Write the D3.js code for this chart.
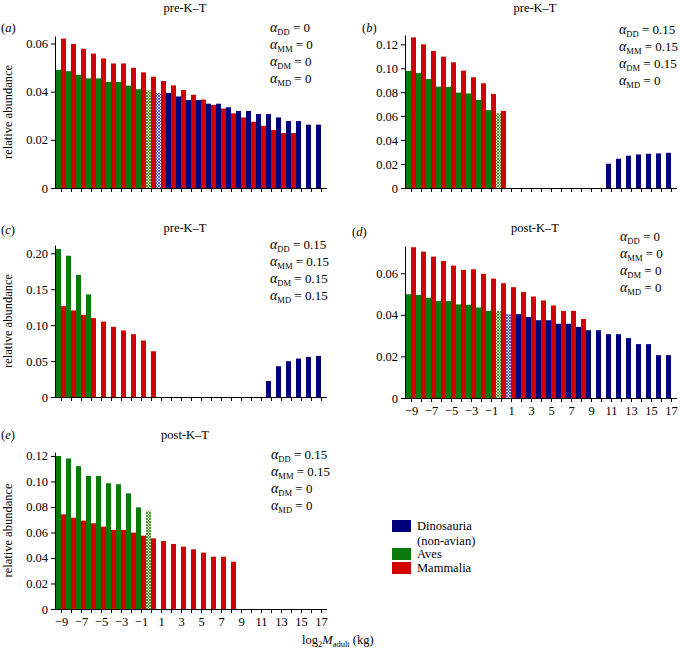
<!DOCTYPE html>
<html>
<head>
<meta charset="utf-8">
<script src="https://cdn.jsdelivr.net/npm/d3@7"></script>
<style>
  body { margin: 0; background: #fff; }
  text { font-family: "Liberation Serif", "Times New Roman", serif; fill: #000; }
</style>
</head>
<body>
<svg id="chart" width="680" height="651"></svg>
<script>
// ---------- data ----------
const categories = [-9,-8,-7,-6,-5,-4,-3,-2,-1,0,1,2,3,4,5,6,7,8,9,10,11,12,13,14,15,16,17];
const xTickLabels = [-9,-7,-5,-3,-1,1,3,5,7,9,11,13,15,17];

// (a) pre-K–T, all alphas 0
const avesA = [0.049,0.0485,0.047,0.0455,0.0455,0.044,0.044,0.0425,0.041,0.0405];
const mammA = [0.062,0.0598,0.0578,0.0558,0.0538,0.0517,0.0517,0.0499,0.048,0.0462,0.0444,0.0426,0.0407,0.0387,0.0367,0.0345,0.033,0.031,0.0293,0.0275,0.0258,0.0241,0.0228,0.0228];
const dinoA = [0.0395,0.0395,0.038,0.0365,0.0365,0.035,0.035,0.0335,0.032,0.032,0.0307,0.0307,0.0293,0.0278,0.0278,0.0263,0.0263];
// (b)
const avesB = [0.0978,0.096,0.091,0.0847,0.0845,0.0797,0.079,0.0736,0.065,0.0625];
const mammB = [0.1258,0.120,0.1144,0.1097,0.105,0.098,0.0925,0.0875,0.0786,0.0644];
const dinoB = [0.0203,0.0244,0.027,0.028,0.0286,0.0289,0.0294];
// (c)
const avesC = [0.206,0.1967,0.170,0.1428];
const mammC = [0.1265,0.1205,0.1144,0.1098,0.105,0.0977,0.0926,0.0874,0.0786,0.0637];
const dinoC = [0.0223,0.0428,0.0498,0.0535,0.0558,0.0572];
// (d) post-K–T
const avesD = [0.0499,0.0496,0.0482,0.0466,0.0466,0.045,0.0448,0.0435,0.0419,0.0419];
const mammD = [0.0725,0.0704,0.068,0.0659,0.0637,0.0616,0.0619,0.0597,0.0574,0.0552,0.0533,0.051,0.0488,0.0469,0.0445,0.0419,0.0419,0.038];
const dinoD = [0.0403,0.0403,0.0389,0.0374,0.0374,0.0357,0.0357,0.0342,0.0326,0.0326,0.0307,0.0307,0.0288,0.0259,0.0259,0.0206,0.0206];
// (e)
const avesE = [0.12,0.118,0.112,0.1043,0.1043,0.0986,0.0978,0.0907,0.0797,0.0771];
const mammE = [0.0742,0.0716,0.0693,0.0672,0.0646,0.062,0.062,0.0599,0.0575,0.0554,0.0533,0.051,0.0489,0.0468,0.0442,0.041,0.041,0.0371];
const dinoE = [];

// first category of each series
const avesStart = -9, mammStart = -9;
const dinoStartA = 1, dinoStartB = 11, dinoStartC = 12, dinoStartD = 1;
// categories drawn hatched (transitional bins)
const avesHatchCat = 0, dinoHatchCat = 1;

const yTicksA = [0,0.02,0.04,0.06];
const yTicksB = [0,0.02,0.04,0.06,0.08,0.10,0.12];
const yTicksC = [0,0.05,0.10,0.15,0.20];
const yTicksD = [0,0.02,0.04,0.06];
const yTicksE = [0,0.02,0.04,0.06,0.08,0.10,0.12];

const alphasA = ["0","0","0","0"];
const alphasB = ["0.15","0.15","0.15","0"];
const alphasC = ["0.15","0.15","0.15","0.15"];
const alphasD = ["0","0","0","0"];
const alphasE = ["0.15","0.15","0","0"];
const alphaNames = ["DD","MM","DM","MD"];

const legendItems = [
  {name: "Dinosauria", name2: "(non-avian)", key: "dino"},
  {name: "Aves", key: "aves"},
  {name: "Mammalia", key: "mamm"}
];

// ---------- style ----------
const COL = {dino: "#00007d", aves: "#0a7a0a", mamm: "#d20000"};

const svg = d3.select("#chart");
const defs = svg.append("defs");
function hatch(id, col, bg) {
  const p = defs.append("pattern").attr("id", id).attr("patternUnits", "userSpaceOnUse")
    .attr("width", 3).attr("height", 3);
  p.append("rect").attr("width", 3).attr("height", 3).attr("fill", bg);
  p.append("path").attr("d", "M0,0L3,3M3,0L0,3").attr("stroke", col).attr("stroke-width", 0.9);
}
hatch("hatchAves", "#3c8a2c", "#e4edc8");
hatch("hatchDino", "#4a4ab0", "#e0dcf2");

function fmtY(v) { return v === 0 ? "0" : d3.format(".2f")(v); }

function toSeries(vals, start) {
  return vals.map((v, i) => ({c: start + i, v}));
}

function panel(cfg) {
  const g = svg.append("g");
  const x = d3.scaleLinear().domain([categories[0] - 0.5, categories[categories.length-1] + 0.5])
    .range([cfg.x0 + 1, cfg.x0 + 271]);
  const y = d3.scaleLinear().domain([0, cfg.yMax]).range([cfg.yZero, cfg.yTop]);

  // aves (left slot)
  g.selectAll(".aves").data(toSeries(cfg.aves, avesStart)).join("rect")
    .attr("x", d => x(d.c - 0.5)).attr("width", d => x(d.c) - x(d.c - 0.5))
    .attr("y", d => y(d.v)).attr("height", d => y(0) - y(d.v))
    .attr("fill", d => d.c === avesHatchCat ? "url(#hatchAves)" : COL.aves);
  // dino (left slot)
  g.selectAll(".dino").data(toSeries(cfg.dino, cfg.dinoStart)).join("rect")
    .attr("x", d => x(d.c - 0.5)).attr("width", d => x(d.c) - x(d.c - 0.5))
    .attr("y", d => y(d.v)).attr("height", d => y(0) - y(d.v))
    .attr("fill", d => d.c === dinoHatchCat ? "url(#hatchDino)" : COL.dino);
  // mammalia (right slot)
  g.selectAll(".mamm").data(toSeries(cfg.mamm, mammStart)).join("rect")
    .attr("x", d => x(d.c)).attr("width", d => x(d.c + 0.5) - x(d.c))
    .attr("y", d => y(d.v)).attr("height", d => y(0) - y(d.v))
    .attr("fill", COL.mamm);

  // y axis
  const ya = g.append("g").attr("transform", `translate(${cfg.x0},0)`)
    .call(d3.axisLeft(y).tickValues(cfg.yTicks).tickFormat(fmtY).tickSize(4).tickSizeOuter(0));
  ya.selectAll("text").attr("font-size", 12.5).attr("x", -7);
  // x axis
  const xa = g.append("g").attr("transform", `translate(0,${cfg.yZero})`)
    .call(d3.axisBottom(x).tickValues(categories).tickSize(4).tickSizeOuter(0)
      .tickFormat(d => cfg.showX && xTickLabels.includes(d) ? (d < 0 ? "\u2212" + (-d) : String(d)) : ""));
  xa.select(".domain").attr("d", `M${cfg.x0},0.5H${cfg.x0 + 272}`);
  xa.selectAll("text").attr("font-size", 12.5).attr("y", 8);
  g.selectAll(".domain").attr("stroke", "#000");
  g.selectAll(".tick line").attr("stroke", "#000");

  // title & panel letter
  g.append("text").attr("x", cfg.x0 + 130).attr("y", cfg.titleY).attr("text-anchor", "middle")
    .attr("font-size", 12.5).text(cfg.title);
  g.append("text").attr("x", cfg.letterX).attr("y", cfg.letterY).attr("font-size", 12.5)
    .html(`(<tspan font-style="italic">${cfg.letter}</tspan>)`);

  // alpha block
  cfg.alphas.forEach((a, i) => {
    const t = g.append("text").attr("x", cfg.alphaX).attr("y", cfg.alphaY + i * 17).attr("font-size", 13);
    t.append("tspan").attr("font-style", "italic").attr("font-size", 14).text("\u03b1");
    t.append("tspan").attr("font-size", 8.5).attr("dy", 3).text(alphaNames[i]);
    t.append("tspan").attr("dy", -3).text(" = " + a);
  });

  if (cfg.yLabel) {
    g.append("text").attr("transform", `translate(${cfg.x0 - 43},${(cfg.yZero + cfg.yTop) / 2}) rotate(-90)`)
      .attr("text-anchor", "middle").attr("font-size", 12.5).text("relative abundance");
  }
}

panel({x0: 55, yZero: 188, yTop: 36, yMax: 0.0631, yTicks: yTicksA, aves: avesA, mamm: mammA, dino: dinoA, dinoStart: dinoStartA,
  title: "pre-K\u2013T", titleY: 12, letter: "a", letterX: 1, letterY: 32, alphas: alphasA, alphaX: 270, alphaY: 32, yLabel: true, showX: false});
panel({x0: 405, yZero: 188, yTop: 35, yMax: 0.1278, yTicks: yTicksB, aves: avesB, mamm: mammB, dino: dinoB, dinoStart: dinoStartB,
  title: "pre-K\u2013T", titleY: 12, letter: "b", letterX: 362, letterY: 32, alphas: alphasB, alphaX: 619, alphaY: 34, yLabel: false, showX: false});
panel({x0: 55, yZero: 397, yTop: 245, yMax: 0.2116, yTicks: yTicksC, aves: avesC, mamm: mammC, dino: dinoC, dinoStart: dinoStartC,
  title: "pre-K\u2013T", titleY: 232, letter: "c", letterX: 1, letterY: 234, alphas: alphasC, alphaX: 270, alphaY: 249, yLabel: true, showX: false});
panel({x0: 405, yZero: 398, yTop: 246, yMax: 0.0731, yTicks: yTicksD, aves: avesD, mamm: mammD, dino: dinoD, dinoStart: dinoStartD,
  title: "post-K\u2013T", titleY: 232, letter: "d", letterX: 352, letterY: 236, alphas: alphasD, alphaX: 620, alphaY: 241, yLabel: false, showX: true});
panel({x0: 55, yZero: 609, yTop: 452, yMax: 0.1231, yTicks: yTicksE, aves: avesE, mamm: mammE, dino: dinoE, dinoStart: 1,
  title: "post-K\u2013T", titleY: 439, letter: "e", letterX: 1, letterY: 439, alphas: alphasE, alphaX: 271, alphaY: 459, yLabel: true, showX: true});

// x-axis title
const xt = svg.append("text").attr("x", 302).attr("y", 644).attr("font-size", 12.5);
xt.append("tspan").text("log");
xt.append("tspan").attr("font-size", 8.5).attr("dy", 3).text("2");
xt.append("tspan").attr("dy", -3).attr("font-style", "italic").text("M");
xt.append("tspan").attr("font-size", 8.5).attr("dy", 3).text("adult");
xt.append("tspan").attr("dy", -3).text(" (kg)");

// legend
const lg = svg.append("g").attr("transform", "translate(392,520)");
let ly = 0;
legendItems.forEach(item => {
  lg.append("rect").attr("x", 0).attr("y", ly).attr("width", 19).attr("height", 12).attr("fill", COL[item.key]);
  lg.append("text").attr("x", 25).attr("y", ly + 10).attr("font-size", 12.5).text(item.name);
  if (item.name2) {
    lg.append("text").attr("x", 25).attr("y", ly + 25).attr("font-size", 12.5).text(item.name2);
    ly += 28;
  } else {
    ly += 14;
  }
});
</script>
</body>
</html>
